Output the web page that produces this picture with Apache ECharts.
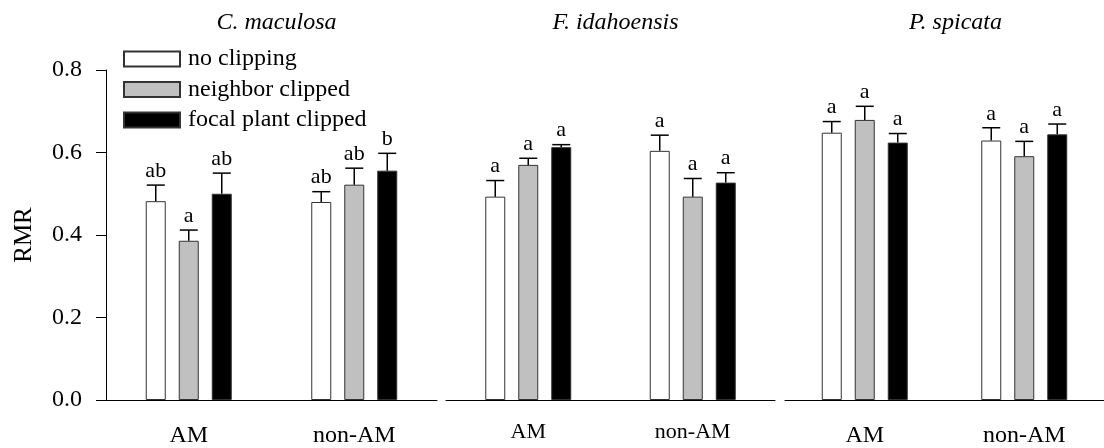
<!DOCTYPE html>
<html>
<head>
<meta charset="utf-8">
<script src="https://cdn.jsdelivr.net/npm/echarts@6/dist/echarts.min.js"></script>
<style>
  html, body { margin: 0; padding: 0; background: #fff; }
  #chart { width: 1104px; height: 448px; }
</style>
</head>
<body>
<div id="chart"></div>
<script>
// Root mass ratio (RMR) by mycorrhizal status and clipping treatment
const groups = ['AM', 'non-AM'];
const treatments = ['no clipping', 'neighbor clipped', 'focal plant clipped'];
const species = ['C. maculosa', 'F. idahoensis', 'P. spicata'];
const yTicks = [0, 0.2, 0.4, 0.6, 0.8];

// means: one row per treatment, columns follow groups
const cMaculosaMean = [[0.482, 0.480], [0.386, 0.522], [0.500, 0.556]];
const cMaculosaSE   = [[0.039, 0.025], [0.026, 0.040], [0.050, 0.042]];
const cMaculosaSig  = [['ab', 'ab'], ['a', 'ab'], ['ab', 'b']];

const fIdahoensisMean = [[0.493, 0.604], [0.570, 0.493], [0.613, 0.527]];
const fIdahoensisSE   = [[0.039, 0.038], [0.016, 0.044], [0.006, 0.024]];
const fIdahoensisSig  = [['a', 'a'], ['a', 'a'], ['a', 'a']];

const pSpicataMean = [[0.648, 0.629], [0.679, 0.591], [0.624, 0.644]];
const pSpicataSE   = [[0.027, 0.031], [0.033, 0.036], [0.022, 0.025]];
const pSpicataSig  = [['a', 'a'], ['a', 'a'], ['a', 'a']];

const panels = [
  { mean: cMaculosaMean, se: cMaculosaSE, sig: cMaculosaSig },
  { mean: fIdahoensisMean, se: fIdahoensisSE, sig: fIdahoensisSig },
  { mean: pSpicataMean, se: pSpicataSE, sig: pSpicataSig }
];

const FONT = '"Liberation Serif", "Times New Roman", serif';
const fills = ['#ffffff', '#c0c0c0', '#000000'];
const gridBoxes = [
  { left: 106, width: 331 },
  { left: 446, width: 329 },
  { left: 785, width: 331 }
];
const BAR_W = 20;
const BAR_GAP = 13;
const xLabelSize = [24, 22, 24];
const xLabelMargin = [24, 21, 24];

const chart = echarts.init(document.getElementById('chart'), null, { renderer: 'canvas' });

const grid = gridBoxes.map(b => ({ left: b.left, width: b.width, top: 70, height: 330 }));

const xAxis = gridBoxes.map((b, p) => ({
  type: 'category',
  gridIndex: p,
  data: groups,
  axisLine: { lineStyle: { color: '#000', width: 1 } },
  axisTick: { alignWithLabel: true, length: 7, lineStyle: { color: '#000' } },
  axisLabel: { color: '#000', fontFamily: FONT, fontSize: xLabelSize[p], margin: xLabelMargin[p] }
}));

const yAxis = gridBoxes.map((b, p) => ({
  type: 'value',
  gridIndex: p,
  min: yTicks[0],
  max: yTicks[yTicks.length - 1],
  interval: 0.2,
  show: p === 0,
  name: p === 0 ? 'RMR' : '',
  nameLocation: 'middle',
  nameGap: 69,
  nameTextStyle: { color: '#000', fontFamily: FONT, fontSize: 25 },
  splitLine: { show: false },
  axisLine: { show: true, lineStyle: { color: '#000', width: 1 } },
  axisTick: { show: true, length: 10, lineStyle: { color: '#000' } },
  axisLabel: {
    color: '#000', fontFamily: FONT, fontSize: 24, margin: 24,
    formatter: v => v.toFixed(1)
  }
}));

const series = [];
panels.forEach((pd, p) => {
  treatments.forEach((name, t) => {
    series.push({
      type: 'bar',
      name: name,
      xAxisIndex: p,
      yAxisIndex: p,
      data: pd.mean[t],
      barWidth: BAR_W,
      barGap: (BAR_GAP / BAR_W * 100) + '%',
      itemStyle: { color: fills[t], borderColor: '#333', borderWidth: 1 },
      z: 2
    });
  });
  // upper error bars with significance letters
  const errData = [];
  groups.forEach((g, gi) => {
    treatments.forEach((name, t) => {
      errData.push([gi, pd.mean[t][gi], pd.mean[t][gi] + pd.se[t][gi], t]);
    });
  });
  series.push({
    type: 'custom',
    xAxisIndex: p,
    yAxisIndex: p,
    z: 5,
    silent: true,
    data: errData,
    encode: { x: 0, y: [1, 2] },
    renderItem: (params, api) => {
      const gi = api.value(0);
      const t = api.value(3);
      const topPt = api.coord([gi, api.value(2)]);
      const meanPt = api.coord([gi, api.value(1)]);
      const x = topPt[0] + (t - 1) * (BAR_W + BAR_GAP);
      const yTop = topPt[1];
      const capHalf = 9;
      return {
        type: 'group',
        children: [
          { type: 'line', shape: { x1: x, y1: meanPt[1], x2: x, y2: yTop },
            style: { stroke: '#000', lineWidth: 1.5 } },
          { type: 'line', shape: { x1: x - capHalf, y1: yTop, x2: x + capHalf, y2: yTop },
            style: { stroke: '#000', lineWidth: 1.5 } },
          { type: 'text', x: x, y: yTop - 3,
            style: { text: pd.sig[t][gi], fill: '#000', font: '22px ' + FONT,
                     textAlign: 'center', textVerticalAlign: 'bottom' } }
        ]
      };
    }
  });
});

const title = species.map((s, p) => ({
  text: s,
  left: gridBoxes[p].left + gridBoxes[p].width / 2,
  top: 6,
  textAlign: 'center',
  textStyle: { fontFamily: FONT, fontStyle: 'italic', fontWeight: 'normal', fontSize: 24, color: '#000' }
}));

chart.setOption({
  animation: false,
  backgroundColor: '#fff',
  title: title,
  legend: {
    orient: 'vertical',
    left: 118,
    top: 42,
    itemWidth: 56,
    itemHeight: 15,
    itemGap: 6.5,
    icon: 'rect',
    data: treatments,
    selectedMode: false,
    textStyle: { fontFamily: FONT, fontSize: 24, color: '#000', lineHeight: 24, padding: [0, 0, 0, 3] }
  },
  grid: grid,
  xAxis: xAxis,
  yAxis: yAxis,
  series: series
});
</script>
</body>
</html>
